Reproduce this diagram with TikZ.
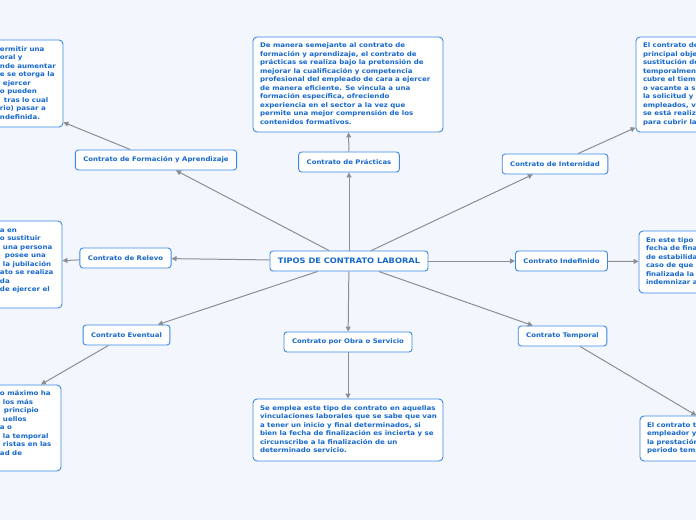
\documentclass[tikz,border=0pt]{standalone}
\usepackage{fontspec}
\setmainfont{DejaVu Sans}[FakeStretch=1.1]
\usetikzlibrary{arrows.meta}
\definecolor{bg}{RGB}{243,246,253}
\definecolor{bd}{RGB}{58,136,228}
\definecolor{tx}{RGB}{22,104,204}
\definecolor{ln}{RGB}{138,142,150}
\newcommand\myoff[1]{\hspace*{#1pt}}
\newcommand\dtxt[1]{\makebox[176pt][l]{\begin{tabular}{@{}l@{}}#1\end{tabular}}}
\begin{document}
\begin{tikzpicture}[x=1pt,y=-1pt,
 every node/.style={font=\bfseries\fontsize{6.3}{8.5}\selectfont, text=tx},
 topic/.style={draw=bd, fill=white, rounded corners=3pt, line width=0.9pt, minimum height=20pt, inner xsep=8pt, inner ysep=0pt},
 central/.style={topic, font=\bfseries\fontsize{7.5}{9}\selectfont, minimum width=156pt},
 desc/.style={draw=bd, fill=white, rounded corners=4pt, line width=0.9pt, inner xsep=7pt, inner ysep=0pt, font=\bfseries\fontsize{6.4}{8.5}\selectfont},
 conn/.style={draw=ln, line width=1pt, -{Triangle[length=5pt,width=5pt]}}]
\fill[bg] (0,0) rectangle (696,520);
\useasboundingbox (0,0) rectangle (696,520);
\clip (0,0) rectangle (696,520);

\node[central] (ctr) at (349,261) {TIPOS DE CONTRATO LABORAL};
\node[topic] (form) at (156,160) {Contrato de Formación y Aprendizaje};
\node[topic] (prac) at (349,162) {Contrato de Prácticas};
\node[topic] (inter) at (555,164) {Contrato de Internidad};
\node[topic] (relevo) at (125.5,258) {Contrato de Relevo};
\node[topic] (indef) at (561.5,261) {Contrato Indefinido};
\node[topic] (event) at (126.5,335) {Contrato Eventual};
\node[topic] (obra) at (348,342) {Contrato por Obra o Servicio};
\node[topic] (temp) at (562.5,336) {Contrato Temporal};

\node[desc, minimum height=87pt] (dform) at (-32,83.5) {\dtxt{%
\myoff{120}ermitir una\\
\myoff{120}oral y\\
\myoff{120}nde aumentar\\
\myoff{120}e se otorga la\\
\myoff{123}ejercer\\
\myoff{120}o pueden\\
\myoff{124}tras lo cual\\
\myoff{120}rio) pasar a\\
\myoff{120}ndefinida.}};
\node[desc, minimum height=95pt] (dprac) at (348,84.5) {\dtxt{%
De manera semejante al contrato de\\
formación y aprendizaje, el contrato de\\
prácticas se realiza bajo la pretensión de\\
mejorar la cualificación y competencia\\
profesional del empleado de cara a ejercer\\
de manera eficiente. Se vincula a una\\
formación específica, ofreciendo\\
experiencia en el sector a la vez que\\
permite una mejor comprensión de los\\
contenidos formativos.}};
\node[desc, minimum height=95pt] (dinter) at (731,84.5) {\dtxt{%
El contrato de\\
principal obje\\
sustitución de\\
temporalmen\\
cubre el tiemp\\
o vacante a s\\
la solicitud y\\
empleados, v\\
se está realiz\\
para cubrir la}};
\node[desc, minimum height=87pt] (drelevo) at (-33,264.5) {\dtxt{%
\myoff{121}a en\\
\myoff{121}o sustituir\\
\myoff{124}una persona\\
\myoff{126}posee una\\
\myoff{124}la jubilación\\
\myoff{121}ato se realiza\\
\myoff{121}da\\
\myoff{121}de ejercer el\\
\mbox{}}};
\node[desc, minimum height=62pt] (dindef) at (734,262) {\dtxt{%
En este tipo\\
fecha de fina\\
de estabilida\\
caso de que\\
finalizada la\\
indemnizar a}};
\node[desc, minimum height=86pt] (devent) at (-34,428) {\dtxt{%
\myoff{122}o máximo ha\\
\myoff{125}los más\\
\myoff{126}principio\\
\myoff{125}uellos\\
\myoff{122}a o\\
\myoff{125}la temporal\\
\myoff{125}ristas en las\\
\myoff{122}ad de\\
\mbox{}}};
\node[desc, minimum height=62pt] (dobra) at (348,430) {\dtxt{%
Se emplea este tipo de contrato en aquellas\\
vinculaciones laborales que se sabe que van\\
a tener un inicio y final determinados, si\\
bien la fecha de finalización es incierta y se\\
circunscribe a la finalización de un\\
determinado servicio.}};
\node[desc, minimum height=45pt] (dtemp) at (735,438.5) {\dtxt{%
El contrato t\\
empleador y\\
la prestación\\
periodo temp}};

\draw[conn] (ctr) -- (form);
\draw[conn] (ctr) -- (prac);
\draw[conn] (ctr) -- (inter);
\draw[conn] (ctr) -- (relevo);
\draw[conn] (ctr) -- (indef);
\draw[conn] (ctr) -- (event);
\draw[conn] (ctr) -- (obra);
\draw[conn] (ctr) -- (temp);
\draw[conn] (form) -- (dform);
\draw[conn] (prac) -- (dprac);
\draw[conn] (inter) -- (dinter);
\draw[conn] (relevo) -- (drelevo);
\draw[conn] (indef) -- (dindef);
\draw[conn] (event) -- (devent);
\draw[conn] (obra) -- (dobra);
\draw[conn] (temp) -- (dtemp);
\end{tikzpicture}
\end{document}
